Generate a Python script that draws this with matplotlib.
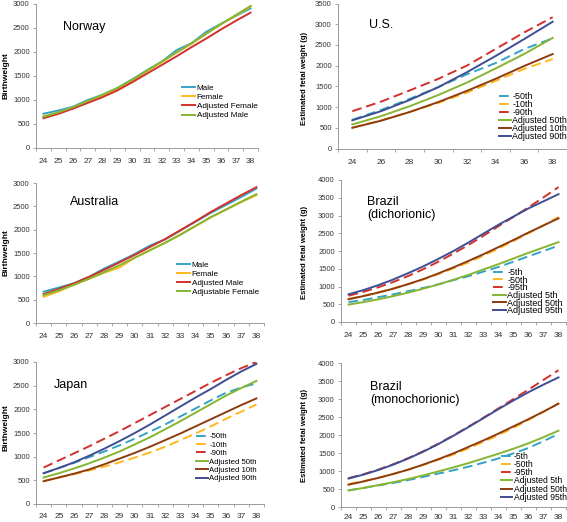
import matplotlib
matplotlib.use("Agg")
import matplotlib.pyplot as plt
import numpy as np

plt.rcParams['font.family'] = ['Liberation Sans', 'DejaVu Sans']

W, H = 567, 522

weeks = list(range(24, 39))
us_weeks = list(range(24, 39, 2))

# ---------------- Norway ----------------
nor_male = [714, 780, 860, 1000, 1110, 1250, 1430, 1620, 1800, 2040, 2180, 2420, 2590, 2750, 2910]
nor_female = [660, 740, 840, 970, 1090, 1220, 1400, 1600, 1790, 1990, 2170, 2380, 2580, 2760, 2945]
nor_adj_female = [620, 710, 820, 940, 1060, 1200, 1370, 1550, 1730, 1910, 2100, 2280, 2470, 2650, 2820]
nor_adj_male = [650, 740, 850, 980, 1110, 1250, 1420, 1610, 1800, 1990, 2180, 2380, 2580, 2770, 2960]

# ---------------- U.S. ----------------
us_p50 = [692, 930, 1197, 1480, 1790, 2060, 2400, 2660]
us_p10 = [500, 680, 880, 1100, 1350, 1630, 1920, 2160]
us_p90 = [900, 1130, 1400, 1680, 2000, 2400, 2800, 3170]
us_adj50 = [580, 780, 1020, 1290, 1590, 1930, 2280, 2670]
us_adj10 = [500, 670, 880, 1120, 1390, 1680, 1990, 2280]
us_adj90 = [680, 900, 1170, 1480, 1840, 2230, 2640, 3060]

# ---------------- Australia ----------------
aus_male = [670, 760, 850, 990, 1170, 1320, 1480, 1660, 1790, 1980, 2170, 2360, 2530, 2700, 2880]
aus_female = [560, 680, 820, 950, 1080, 1190, 1400, 1560, 1720, 1900, 2080, 2260, 2430, 2590, 2740]
aus_adj_male = [620, 730, 850, 990, 1140, 1300, 1460, 1630, 1800, 1990, 2180, 2380, 2560, 2740, 2910]
aus_adj_female = [600, 700, 820, 950, 1090, 1240, 1400, 1560, 1720, 1890, 2080, 2270, 2430, 2600, 2760]

# ---------------- Brazil (dichorionic) ----------------
bd_p5 = [560, 620, 700, 780, 870, 960, 1060, 1180, 1290, 1420, 1550, 1700, 1850, 2000, 2150]
bd_p50 = [650, 740, 840, 950, 1070, 1200, 1350, 1510, 1680, 1870, 2070, 2280, 2500, 2720, 2960]
bd_p95 = [740, 850, 980, 1130, 1300, 1490, 1700, 1930, 2170, 2430, 2700, 2960, 3230, 3510, 3800]
bd_adj5 = [490, 560, 640, 730, 830, 940, 1060, 1190, 1330, 1480, 1630, 1790, 1950, 2100, 2250]
bd_adj50 = [640, 730, 830, 940, 1070, 1210, 1370, 1540, 1720, 1910, 2110, 2310, 2520, 2720, 2920]
bd_adj95 = [780, 900, 1040, 1200, 1380, 1570, 1780, 2000, 2240, 2490, 2740, 2970, 3200, 3400, 3600]

# ---------------- Japan ----------------
jp_p50 = [650, 760, 870, 990, 1110, 1240, 1380, 1530, 1680, 1850, 2020, 2190, 2350, 2460, 2550]
jp_p10 = [490, 560, 630, 710, 790, 880, 980, 1090, 1210, 1350, 1490, 1640, 1800, 1950, 2100]
jp_p90 = [770, 920, 1070, 1220, 1380, 1540, 1710, 1880, 2050, 2220, 2390, 2560, 2720, 2870, 3000]
jp_adj50 = [560, 650, 750, 860, 980, 1110, 1260, 1410, 1580, 1750, 1930, 2110, 2290, 2450, 2600]
jp_adj10 = [480, 560, 640, 730, 840, 960, 1080, 1210, 1350, 1490, 1640, 1790, 1940, 2090, 2230]
jp_adj90 = [650, 760, 880, 1020, 1170, 1330, 1500, 1680, 1870, 2060, 2250, 2430, 2620, 2800, 2960]

# ---------------- Brazil (monochorionic) ----------------
bm_p5 = [460, 530, 600, 670, 750, 840, 930, 1020, 1120, 1230, 1350, 1490, 1640, 1830, 2030]
bm_p50 = [640, 720, 810, 920, 1040, 1170, 1310, 1460, 1630, 1810, 2000, 2200, 2420, 2640, 2880]
bm_p95 = [800, 910, 1040, 1190, 1360, 1550, 1760, 1990, 2230, 2480, 2740, 3000, 3260, 3530, 3800]
bm_adj5 = [460, 530, 610, 690, 780, 880, 990, 1100, 1220, 1350, 1480, 1620, 1770, 1940, 2120]
bm_adj50 = [620, 710, 810, 920, 1040, 1180, 1330, 1490, 1670, 1850, 2040, 2240, 2440, 2650, 2870]
bm_adj95 = [790, 900, 1030, 1180, 1350, 1540, 1750, 1980, 2220, 2470, 2720, 2960, 3190, 3400, 3600]

TEAL = "#35A3C4"
YELLOW = "#FFB81C"
RED = "#D2302C"
GREEN = "#86B532"
BROWN = "#8E3B10"
NAVY = "#3F4E92"
LW = 1.4
DASH = (0, (5, 2.5))

fig = plt.figure(figsize=(W / 100, H / 100), dpi=100)


def make_ax(l, r, t, b, cats, ymax, xpad=7.5):
    ax = fig.add_axes([l / W, 1 - b / H, (r - l) / W, (b - t) / H])
    n = len(cats)
    ax.set_xlim(-0.5, n - 0.5)
    ax.set_ylim(0, ymax)
    ax.set_xticks(range(n))
    ax.set_xticklabels([str(c) for c in cats])
    ax.set_xticks(np.arange(-0.5, n, 1.0), minor=True)
    ax.tick_params(axis='x', which='major', length=0, pad=xpad, labelsize=6, labelcolor="#333333")
    ax.tick_params(axis='x', which='minor', length=2.5, width=0.6, color="#999999")
    ax.set_yticks(np.arange(0, ymax + 1, 500))
    ax.tick_params(axis='y', which='major', length=2.5, width=0.6, color="#999999",
                   pad=2, labelsize=5.5, labelcolor="#333333")
    for s in ['top', 'right']:
        ax.spines[s].set_visible(False)
    for s in ['left', 'bottom']:
        ax.spines[s].set_color("#999999")
        ax.spines[s].set_linewidth(0.7)
    return ax


def add_legend(ax, x, y, fs, spacing, hl=1.6):
    ax.legend(loc='upper left', bbox_to_anchor=(x / W, 1 - y / H), bbox_transform=fig.transFigure,
              frameon=False, fontsize=fs, handlelength=hl, handletextpad=0.2,
              labelspacing=spacing, borderpad=0, borderaxespad=0)


def title(x, y, txt):
    fig.text(x / W, 1 - y / H, txt, fontsize=9, ha='left', va='top', linespacing=1.15)


def ylab(x, y, txt, fs):
    fig.text(x / W, 1 - y / H, txt, fontsize=fs, fontweight='bold', rotation=90,
             ha='center', va='center')


# Norway
ax = make_ax(36, 258, 4, 148, weeks, 3000)
xi = range(len(weeks))
ax.plot(xi, nor_male, color=TEAL, lw=LW, label="Male")
ax.plot(xi, nor_female, color=YELLOW, lw=LW, label="Female")
ax.plot(xi, nor_adj_female, color=RED, lw=LW, label="Adjusted Female")
ax.plot(xi, nor_adj_male, color=GREEN, lw=LW, label="Adjusted Male")
add_legend(ax, 182, 84, 5.9, 0.18)
title(63, 21, "Norway")
ylab(6, 76, "Birthweight", 6)

# U.S.
ax = make_ax(338, 567, 3.5, 148.5, us_weeks, 3500)
xu = range(len(us_weeks))
ax.plot(xu, us_p50, color=TEAL, lw=LW, ls=DASH, label="-50th")
ax.plot(xu, us_p10, color=YELLOW, lw=LW, ls=DASH, label="-10th")
ax.plot(xu, us_p90, color=RED, lw=LW, ls=DASH, label="-90th")
ax.plot(xu, us_adj50, color=GREEN, lw=LW, label="Adjusted 50th")
ax.plot(xu, us_adj10, color=BROWN, lw=LW, label="Adjusted 10th")
ax.plot(xu, us_adj90, color=NAVY, lw=LW, label="Adjusted 90th")
add_legend(ax, 499, 92, 6.4, -0.12, hl=1.3)
title(369, 19, "U.S.")
ylab(305, 78, "Estimated fetal weight (g)", 5.5)

# Australia
ax = make_ax(36, 264, 183, 323, weeks, 3000)
ax.plot(xi, aus_male, color=TEAL, lw=LW, label="Male")
ax.plot(xi, aus_female, color=YELLOW, lw=LW, label="Female")
ax.plot(xi, aus_adj_male, color=RED, lw=LW, label="Adjusted Male")
ax.plot(xi, aus_adj_female, color=GREEN, lw=LW, label="Adjustable Female")
add_legend(ax, 177, 261, 5.9, 0.15)
title(70, 196, "Australia")
ylab(6, 253, "Birthweight", 6)

# Brazil dichorionic
ax = make_ax(341, 566, 180, 322, weeks, 4000)
ax.plot(xi, bd_p5, color=TEAL, lw=LW, ls=DASH, label="-5th")
ax.plot(xi, bd_p50, color=YELLOW, lw=LW, ls=DASH, label="-50th")
ax.plot(xi, bd_p95, color=RED, lw=LW, ls=DASH, label="-95th")
ax.plot(xi, bd_adj5, color=GREEN, lw=LW, label="Adjusted 5th")
ax.plot(xi, bd_adj50, color=BROWN, lw=LW, label="Adjusted 50th")
ax.plot(xi, bd_adj95, color=NAVY, lw=LW, label="Adjusted 95th")
add_legend(ax, 493, 268, 6.5, -0.15, hl=1.4)
title(367, 196, "Brazil\n(dichorionic)")
ylab(305, 252, "Estimated fetal weight (g)", 5.5)

# Japan
ax = make_ax(36, 264, 362, 504, weeks, 3000, xpad=6.5)
ax.plot(xi, jp_p50, color=TEAL, lw=LW, ls=DASH, label="-50th")
ax.plot(xi, jp_p10, color=YELLOW, lw=LW, ls=DASH, label="-10th")
ax.plot(xi, jp_p90, color=RED, lw=LW, ls=DASH, label="-90th")
ax.plot(xi, jp_adj50, color=GREEN, lw=LW, label="Adjusted 50th")
ax.plot(xi, jp_adj10, color=BROWN, lw=LW, label="Adjusted 10th")
ax.plot(xi, jp_adj90, color=NAVY, lw=LW, label="Adjusted 90th")
add_legend(ax, 196, 433, 5.6, 0.12, hl=1.5)
title(54, 379, "Japan")
ylab(6, 428, "Birthweight", 6)

# Brazil monochorionic
ax = make_ax(341, 566, 363, 507, weeks, 4000, xpad=5)
ax.plot(xi, bm_p5, color=TEAL, lw=LW, ls=DASH, label="-5th")
ax.plot(xi, bm_p50, color=YELLOW, lw=LW, ls=DASH, label="-50th")
ax.plot(xi, bm_p95, color=RED, lw=LW, ls=DASH, label="-95th")
ax.plot(xi, bm_adj5, color=GREEN, lw=LW, label="Adjusted 5th")
ax.plot(xi, bm_adj50, color=BROWN, lw=LW, label="Adjusted 50th")
ax.plot(xi, bm_adj95, color=NAVY, lw=LW, label="Adjusted 95th")
add_legend(ax, 501, 452, 6.2, -0.1, hl=1.3)
title(370, 381, "Brazil\n(monochorionic)")
ylab(305, 435, "Estimated fetal weight (g)", 5.5)

fig.savefig("out.png", dpi=100)
